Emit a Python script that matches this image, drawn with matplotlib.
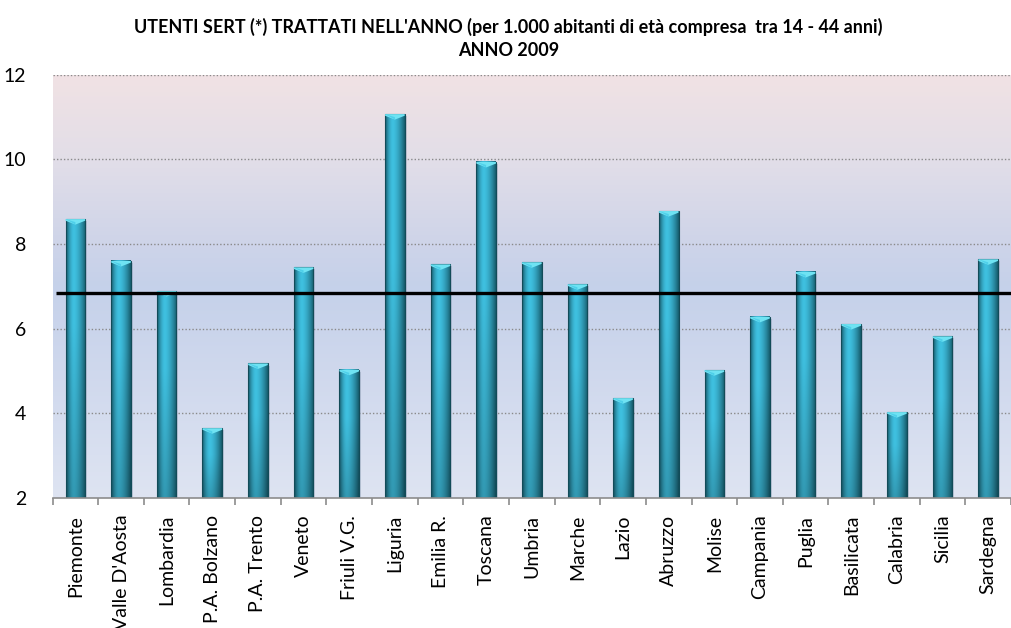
import numpy as np
import matplotlib
matplotlib.use("Agg")
import matplotlib.pyplot as plt
from matplotlib.patches import Polygon, Rectangle
from matplotlib.colors import to_rgb

regions = ["Piemonte", "Valle D'Aosta", "Lombardia", "P.A. Bolzano", "P.A. Trento",
           "Veneto", "Friuli V.G.", "Liguria", "Emilia R.", "Toscana", "Umbria",
           "Marche", "Lazio", "Abruzzo", "Molise", "Campania", "Puglia",
           "Basilicata", "Calabria", "Sicilia", "Sardegna"]
values = [8.59, 7.60, 6.89, 3.65, 5.18, 7.45, 5.03, 11.07, 7.52, 9.94, 7.57,
          7.05, 4.36, 8.78, 5.02, 6.28, 7.34, 6.11, 4.03, 5.82, 7.64]
italy_mean = 6.85
yticks = [2, 4, 6, 8, 10, 12]
title = "UTENTI SERT (*) TRATTATI NELL'ANNO (per 1.000 abitanti di età compresa  tra 14 - 44 anni)\nANNO 2009"

plt.rcParams['font.family'] = ['Lato', 'DejaVu Sans']

fig = plt.figure(figsize=(10.11, 6.28), dpi=100)
ax = fig.add_axes([0.052, 0.207, 0.948, 0.674])

n = len(regions)
ymin, ymax = 2, 12
ax.set_xlim(-0.5, n - 0.5)
ax.set_ylim(ymin, ymax)

# background gradient (top -> bottom)
stops_y = np.array([12, 10, 8, 7, 5, 2], dtype=float)
stops_c = np.array([(241, 226, 228), (226, 222, 232), (206, 212, 233),
                    (197, 209, 234), (207, 216, 237), (222, 228, 242)]) / 255.0
ys = np.linspace(ymax, ymin, 300)
bg = np.stack([np.interp(ys, stops_y[::-1], stops_c[::-1, k]) for k in range(3)], axis=-1)
bg = bg[:, None, :]
ax.imshow(bg, extent=[-0.5, n - 0.5, ymin, ymax], aspect='auto', zorder=0,
          interpolation='bilinear')

# grid
for yv in yticks[1:]:
    ax.axhline(yv, color='#8a8a8a', lw=1.0, ls=(0, (1, 1.5)), zorder=1)

# bars
w = 0.43
dark = np.array(to_rgb('#175d6e'))
light = np.array(to_rgb('#3fc0e0'))
hx = np.linspace(0, 1, 40)
hprof = []
for t in hx:
    if t < 0.4:
        c = dark + (light - dark) * (np.sin(t / 0.4 * np.pi / 2))
    else:
        c = light + (dark - light) * ((t - 0.4) / 0.6) ** 1.6
    hprof.append(c)
hprof = np.array(hprof)
for i, v in enumerate(values):
    vy = np.linspace(1, 0, 60)  # top -> bottom
    fac = 0.80 + 0.20 * np.clip(vy * 1.6, 0, 1)
    img = np.clip(hprof[None, :, :] * fac[:, None, None], 0, 1)
    ax.add_patch(Rectangle((i + w / 2, ymin), 0.04, v - ymin - 0.05,
                           facecolor='#7f8fa8', alpha=0.35, lw=0, zorder=2))
    ax.imshow(img, extent=[i - w / 2, i + w / 2, ymin, v], aspect='auto',
              zorder=3, interpolation='bilinear')
    ax.add_patch(Rectangle((i - w / 2, ymin), w, v - ymin, fill=False,
                           edgecolor='#124b58', lw=0.8, zorder=4))
    cap = 0.13
    ax.add_patch(Polygon([(i - w / 2, v), (i + w / 2, v), (i + w / 2, v - cap * 0.3),
                          (i, v - cap), (i - w / 2, v - cap * 0.3)],
                         closed=True, facecolor='#6fe3f3', edgecolor='none', zorder=5))
    ax.add_patch(Polygon([(i - w / 2, v), (i, v - cap), (i, v - cap * 0.55)],
                         closed=True, facecolor='#4fd0ea', edgecolor='none', zorder=5))

# mean line
ax.plot([-0.43, n - 0.5], [italy_mean, italy_mean], color='black', lw=2.4,
        zorder=6, solid_capstyle='butt')

# axes styling
for s in ['top', 'right', 'left']:
    ax.spines[s].set_visible(False)
ax.spines['bottom'].set_color('#8c8c8c')
ax.spines['bottom'].set_linewidth(1.2)
ax.spines['bottom'].set_zorder(7)

ax.set_yticks(yticks)
ax.set_yticklabels([str(t) for t in yticks], fontsize=14)
ax.tick_params(axis='y', length=0, pad=19)

ax.set_xticks(range(n))
ax.set_xticklabels(regions, rotation=90, fontsize=14)
ax.tick_params(axis='x', length=0, pad=12)
ax.set_xticks(np.arange(-0.5, n, 1.0), minor=True)
ax.tick_params(axis='x', which='minor', length=5, color='#8c8c8c', width=1.2)

fig.text(0.503, 0.972, title, ha='center', va='top', fontsize=13,
         fontweight='bold', linespacing=1.45)

fig.savefig('out.png', dpi=100)
